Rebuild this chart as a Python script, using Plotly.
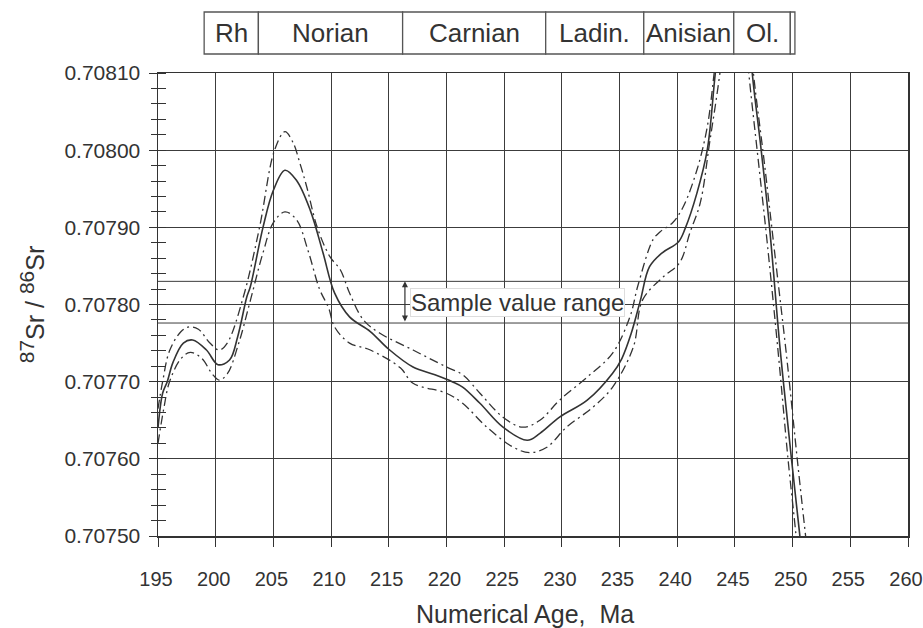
import plotly.graph_objects as go

# ---------------- data ----------------
mid_age = [195.0, 195.4, 195.8, 196.3, 197.2, 198.0, 199.2, 200.2, 201.2, 201.9, 202.7, 203.0, 204.1,
           205.0, 206.0, 207.0, 208.2, 209.3, 210.3, 211.6, 213.4, 215.0, 217.1, 219.0, 220.5,
           221.4, 222.9, 224.9, 227.0, 228.1, 229.8, 232.2, 234.4, 235.2, 236.0, 236.8, 237.6,
           238.7, 240.1, 240.7, 241.7, 242.6, 243.3, 244.2, 245.0, 245.8, 246.5, 247.2, 248.0,
           248.9, 249.9, 250.6, 251.0]
mid_val = [0.707640, 0.707685, 0.707700, 0.707725, 0.707750, 0.707754, 0.707741, 0.707722, 0.707728,
           0.707758, 0.707810, 0.707823, 0.707900, 0.707948, 0.707974, 0.707961, 0.707922,
           0.707867, 0.707815, 0.707784, 0.707765, 0.707742, 0.707719, 0.707709, 0.707700,
           0.707693, 0.707672, 0.707641, 0.707624, 0.707633, 0.707654, 0.707676, 0.707711,
           0.707730, 0.707762, 0.707805, 0.707849, 0.707867, 0.707881, 0.707899, 0.707944,
           0.708000, 0.708100, 0.708220, 0.708300, 0.708240, 0.708100, 0.708010, 0.707900,
           0.707745, 0.707600, 0.707504, 0.707440]

upper_age = [195.0, 195.4, 196.0, 197.0, 197.7, 198.5, 199.5, 200.3, 201.0, 202.4, 203.8, 205.1,
             206.0, 206.7, 207.3, 207.9, 208.8, 209.9, 210.8, 211.6, 212.8, 214.2, 217.1, 220.0,
             221.4, 222.9, 224.9, 226.6, 228.1, 229.8, 232.2, 234.4, 235.9, 236.6, 237.9, 238.5,
             239.6, 240.5, 241.7, 242.6, 243.2, 244.0, 245.0, 245.7, 246.6, 247.5, 248.5, 249.5,
             250.4, 251.2, 251.5]
upper_val = [0.707665, 0.707700, 0.707740, 0.707765, 0.707771, 0.707768, 0.707750, 0.707741, 0.707750,
             0.707810, 0.707900, 0.708000, 0.708024, 0.708010, 0.707983, 0.707952, 0.707900,
             0.707862, 0.707845, 0.707815, 0.707780, 0.707763, 0.707741, 0.707719, 0.707709,
             0.707685, 0.707654, 0.707641, 0.707650, 0.707676, 0.707706, 0.707737, 0.707784,
             0.707825, 0.707884, 0.707894, 0.707906, 0.707926, 0.707974, 0.708030, 0.708100,
             0.708210, 0.708310, 0.708250, 0.708100, 0.707990, 0.707860, 0.707730, 0.707600,
             0.707490, 0.707450]

lower_age = [195.0, 195.5, 196.0, 197.0, 197.8, 198.8, 199.7, 200.3, 201.0, 202.0, 203.0, 204.1,
             205.0, 206.0, 207.0, 208.0, 209.0, 209.8, 210.3, 211.6, 213.4, 216.0, 217.1, 220.0,
             221.4, 223.5, 225.8, 227.2, 228.7, 230.4, 232.7, 234.4, 236.2, 237.0, 238.8, 240.2,
             241.1, 242.0, 242.8, 243.7, 244.6, 245.3, 246.2, 247.0, 247.8, 248.8, 249.6, 250.3,
             250.6]
lower_val = [0.707620, 0.707665, 0.707700, 0.707730, 0.707738, 0.707730, 0.707710, 0.707702, 0.707710,
             0.707750, 0.707805, 0.707867, 0.707906, 0.707920, 0.707910, 0.707870, 0.707820,
             0.707795, 0.707771, 0.707750, 0.707741, 0.707718, 0.707698, 0.707685, 0.707672,
             0.707641, 0.707615, 0.707608, 0.707615, 0.707641, 0.707667, 0.707693, 0.707745,
             0.707806, 0.707836, 0.707854, 0.707893, 0.707932, 0.708009, 0.708100, 0.708220,
             0.708250, 0.708100, 0.707990, 0.707880, 0.707730, 0.707600, 0.707500, 0.707450]

stage_names = ["Rh", "Norian", "Carnian", "Ladin.", "Anisian", "Ol.", ""]
stage_bounds = [199.0, 203.7, 216.2, 228.6, 237.1, 244.9, 249.8, 250.2]

sample_range = [0.707776, 0.707830]
sample_label = "Sample value range"
sample_arrow_age = 216.4
sample_label_age = 216.8

x_ticks = list(range(195, 261, 5))
y_ticks = [0.70750, 0.70760, 0.70770, 0.70780, 0.70790, 0.70800, 0.70810]

x_title = "Numerical Age,\u00a0 Ma"
y_title = ("<sup><span style='font-size:21px'>87</span></sup>Sr / "
           "<sup><span style='font-size:21px'>86</span></sup>Sr")

# ---------------- style ----------------
INK = "#333333"
GRID = "#3c3c3c"
FONT = "Liberation Sans, Arial, sans-serif"
DASHDOT = "9px,4px,2px,4px"

fig = go.Figure()
fig.add_trace(go.Scatter(x=upper_age, y=upper_val, mode="lines", line_shape="spline",
                         line=dict(color=INK, width=1.3, dash=DASHDOT), hoverinfo="skip"))
fig.add_trace(go.Scatter(x=mid_age, y=mid_val, mode="lines", line_shape="spline",
                         line=dict(color=INK, width=1.6), hoverinfo="skip"))
fig.add_trace(go.Scatter(x=lower_age, y=lower_val, mode="lines", line_shape="spline",
                         line=dict(color=INK, width=1.3, dash=DASHDOT), hoverinfo="skip"))

# sample range lines
for v in sample_range:
    fig.add_shape(type="line", xref="paper", yref="y", x0=0, x1=1, y0=v, y1=v,
                  line=dict(color=GRID, width=1), layer="below")

# double arrow
fig.add_annotation(x=sample_arrow_age, y=sample_range[1], ax=sample_arrow_age, ay=sample_range[0],
                   xref="x", yref="y", axref="x", ayref="y", text="", showarrow=True,
                   arrowhead=2, startarrowhead=2, arrowside="end+start", arrowsize=1,
                   arrowwidth=1.2, arrowcolor=INK)
fig.add_annotation(x=sample_label_age, y=sum(sample_range) / 2, xref="x", yref="y",
                   xanchor="left", yanchor="middle", text=sample_label, showarrow=False,
                   font=dict(family=FONT, size=24, color=INK), bgcolor="white",
                   bordercolor="#dddddd", borderwidth=1, borderpad=0)

# stage bar
for i, name in enumerate(stage_names):
    x0, x1 = stage_bounds[i], stage_bounds[i + 1]
    fig.add_shape(type="rect", xref="x", yref="paper", x0=x0, x1=x1, y0=1.041, y1=1.1317,
                  line=dict(color="#555555", width=1.3), fillcolor="white")
    if name:
        fig.add_annotation(x=(x0 + x1) / 2, y=1.087, xref="x", yref="paper", text=name,
                           showarrow=False, yanchor="middle",
                           font=dict(family=FONT, size=26, color=INK))

# x-axis title (placed as annotation to match the original's slight left offset)
fig.add_annotation(x=0.489, y=-0.168, xref="paper", yref="paper", text=x_title,
                   showarrow=False, yanchor="middle", xanchor="center",
                   font=dict(family=FONT, size=25, color=INK))

fig.update_layout(
    width=923, height=628,
    margin=dict(l=158, r=15, t=73, b=92, autoexpand=False),
    paper_bgcolor="white", plot_bgcolor="white",
    showlegend=False,
    font=dict(family=FONT, color=INK),
    xaxis=dict(range=[195, 260], tickvals=x_ticks, ticktext=[str(t) for t in x_ticks],
               automargin=False, ticklabeloverflow="allow", ticklabelshift=-2,
               showgrid=True, gridcolor=GRID, gridwidth=1,
               showline=True, linecolor=INK, linewidth=1.5, mirror=True,
               ticks="outside", ticklen=9, tickcolor=INK, tickwidth=1,
               ticklabelstandoff=15,
               tickfont=dict(family=FONT, size=20, color=INK),
               zeroline=False, fixedrange=True),
    yaxis=dict(range=[0.70750, 0.70810], tickvals=y_ticks,
               ticktext=[f"{v:.5f}" for v in y_ticks],
               automargin=False,
               showgrid=True, gridcolor=GRID, gridwidth=1,
               showline=True, linecolor=INK, linewidth=1.5, mirror=True,
               ticks="outside", ticklen=8, tickcolor=INK, tickwidth=1,
               ticklabelstandoff=4,
               minor=dict(dtick=0.00002, ticks="inside", ticklen=8, tickcolor=INK,
                          tickwidth=1, showgrid=False),
               tickfont=dict(family=FONT, size=21, color=INK),
               title=dict(text=y_title, standoff=12,
                          font=dict(family=FONT, size=25, color=INK)),
               zeroline=False, fixedrange=True),
    yaxis2=dict(range=[0.70750, 0.70810], overlaying="y", side="left",
                automargin=False,
                tickvals=y_ticks, showticklabels=False, showgrid=False,
                ticks="outside", ticklen=8, tickcolor=INK, tickwidth=1,
                minor=dict(dtick=0.00002, ticks="outside", ticklen=6, tickcolor=INK,
                           tickwidth=1, showgrid=False),
                zeroline=False, showline=False, fixedrange=True),
)
# invisible trace so that the overlay axis (crossing minor ticks) is drawn
fig.add_trace(go.Scatter(x=[195], y=[0.7075], yaxis="y2", mode="markers",
                         marker=dict(opacity=0), hoverinfo="skip"))

fig.write_html("out.html", config={"displayModeBar": False, "staticPlot": True},
               post_script="document.body.style.margin='0';")
